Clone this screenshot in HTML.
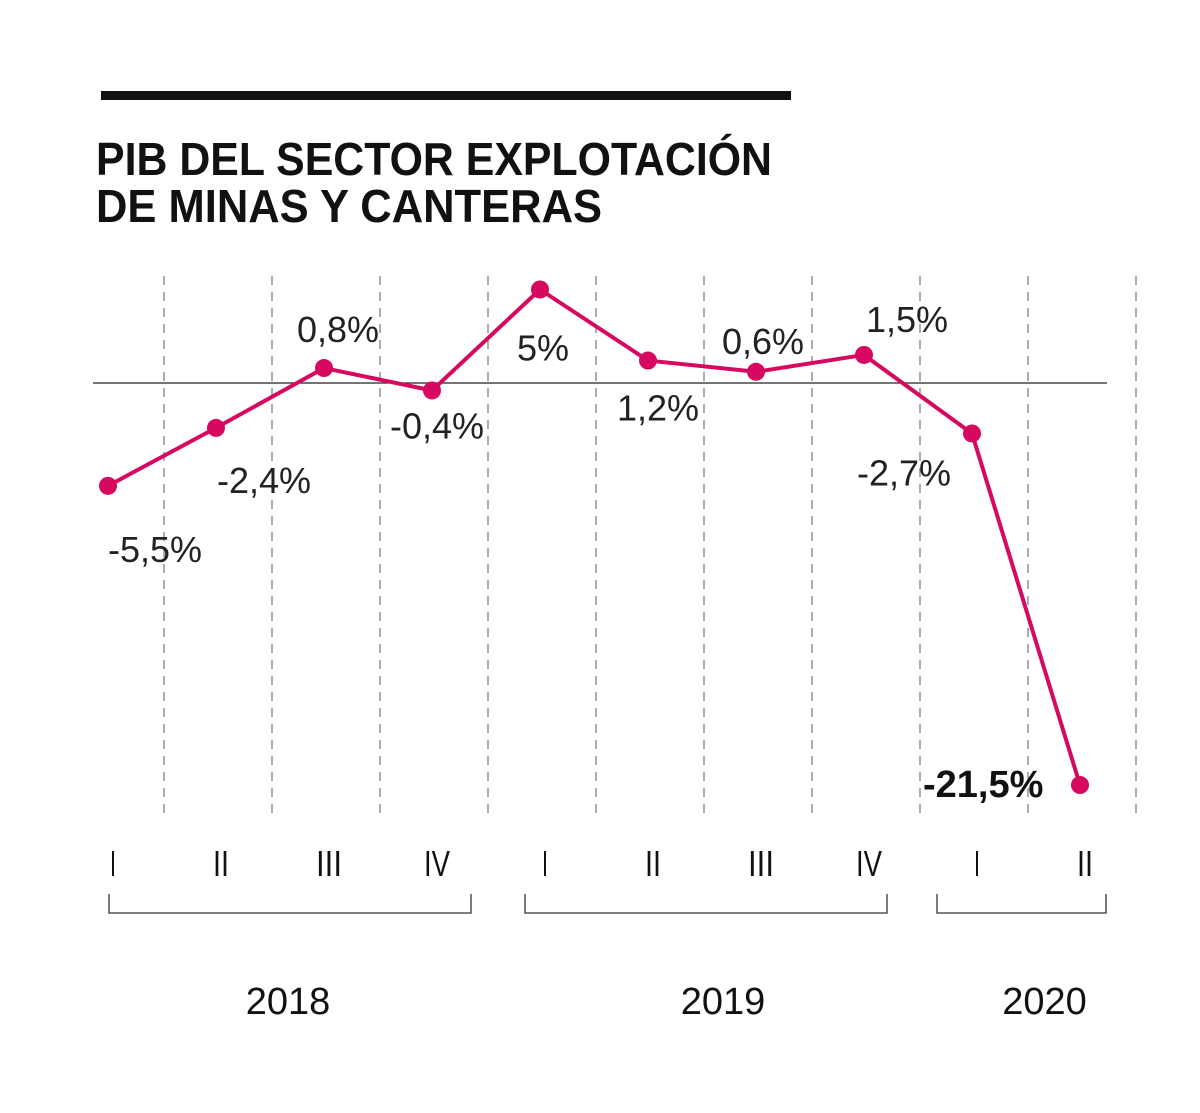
<!DOCTYPE html>
<html><head><meta charset="utf-8"><style>
html,body{margin:0;padding:0;background:#fff;}
svg{display:block;font-family:"Liberation Sans",sans-serif;}
</style></head><body>
<svg id="chart" width="1200" height="1113" viewBox="0 0 1200 1113" xmlns="http://www.w3.org/2000/svg">
<rect x="101" y="91" width="690" height="9" fill="#111"/>
<text x="96" y="175" font-size="46" font-weight="bold" fill="#111" textLength="676" lengthAdjust="spacingAndGlyphs">PIB DEL SECTOR EXPLOTACIÓN</text>
<text x="96" y="222" font-size="46" font-weight="bold" fill="#111" textLength="506" lengthAdjust="spacingAndGlyphs">DE MINAS Y CANTERAS</text>
<g id="grid"></g>
<line x1="93" y1="383" x2="1107" y2="383" stroke="#222" stroke-width="1.3"/>
<g id="series"></g>
<g id="axis"></g>
</svg>
<script>
const quarters = ["I","II","III","IV","I","II","III","IV","I","II"];
const values = [-5.5,-2.4,0.8,-0.4,5,1.2,0.6,1.5,-2.7,-21.5];
const valueLabels = ["-5,5%","-2,4%","0,8%","-0,4%","5%","1,2%","0,6%","1,5%","-2,7%","-21,5%"];
const years = ["2018","2019","2020"];
const yearStart = [0,4,8];
const yearEnd = [3,7,9];

const NS="http://www.w3.org/2000/svg";
function mk(tag,attrs,parent){const e=document.createElementNS(NS,tag);for(const k in attrs)e.setAttribute(k,attrs[k]);parent.appendChild(e);return e;}
const x = i => 108 + i*108;
const y = v => 383 - v*18.7;
const grid=document.getElementById('grid'), series=document.getElementById('series'), axis=document.getElementById('axis');

for(let i=0;i<quarters.length;i++){
  const gx = x(i)+56;
  const l=mk('line',{x1:gx,y1:276,x2:gx,y2:815,stroke:'#777','stroke-width':1.2,'stroke-dasharray':'9 7'},grid);
  
  
}
const pts=values.map((v,i)=>x(i)+','+y(v)).join(' ');
const pl=mk('polyline',{points:pts,fill:'none',stroke:'#d6085f','stroke-width':4,'stroke-linejoin':'round'},series);



const dx=[0,1,-27,-42,-23,-31,-34,2,-115,-157];
const dy=[76,65,-26,48,71,60,-18,-23,52,12];
values.forEach((v,i)=>{
  const c=mk('circle',{cx:x(i),cy:y(v),r:9,fill:'#d6085f'},series);
  
  
  const last=i===values.length-1;
  const t=mk('text',{x:x(i)+dx[i],y:y(v)+dy[i],'font-size':last?38:36,'font-weight':last?'bold':'normal',fill:last?'#111':'#222'},series);
  t.textContent=valueLabels[i];
  
  
});
const qW={"I":6,"II":16,"III":26,"IV":26};
quarters.forEach((q,i)=>{
  const t=mk('text',{x:x(i)+5,y:876,'font-size':36,'text-anchor':'middle',fill:'#111',textLength:qW[q],lengthAdjust:'spacingAndGlyphs'},axis);
  t.textContent=q;
  
  
});
const bL=[1,-15,-35], bR=[39,23,26], yOff=[-2,17,23];
years.forEach((yr,j)=>{
  const x1=x(yearStart[j])+bL[j], x2=x(yearEnd[j])+bR[j];
  const p=mk('path',{d:`M${x1} 894V913H${x2}V894`,fill:'none',stroke:'#333','stroke-width':1.3},axis);
  
  
  const t=mk('text',{x:(x1+x2)/2+yOff[j],y:1014,'font-size':38,'text-anchor':'middle',fill:'#111'},axis);
  t.textContent=yr;
  
  
});
</script>
</body></html>
